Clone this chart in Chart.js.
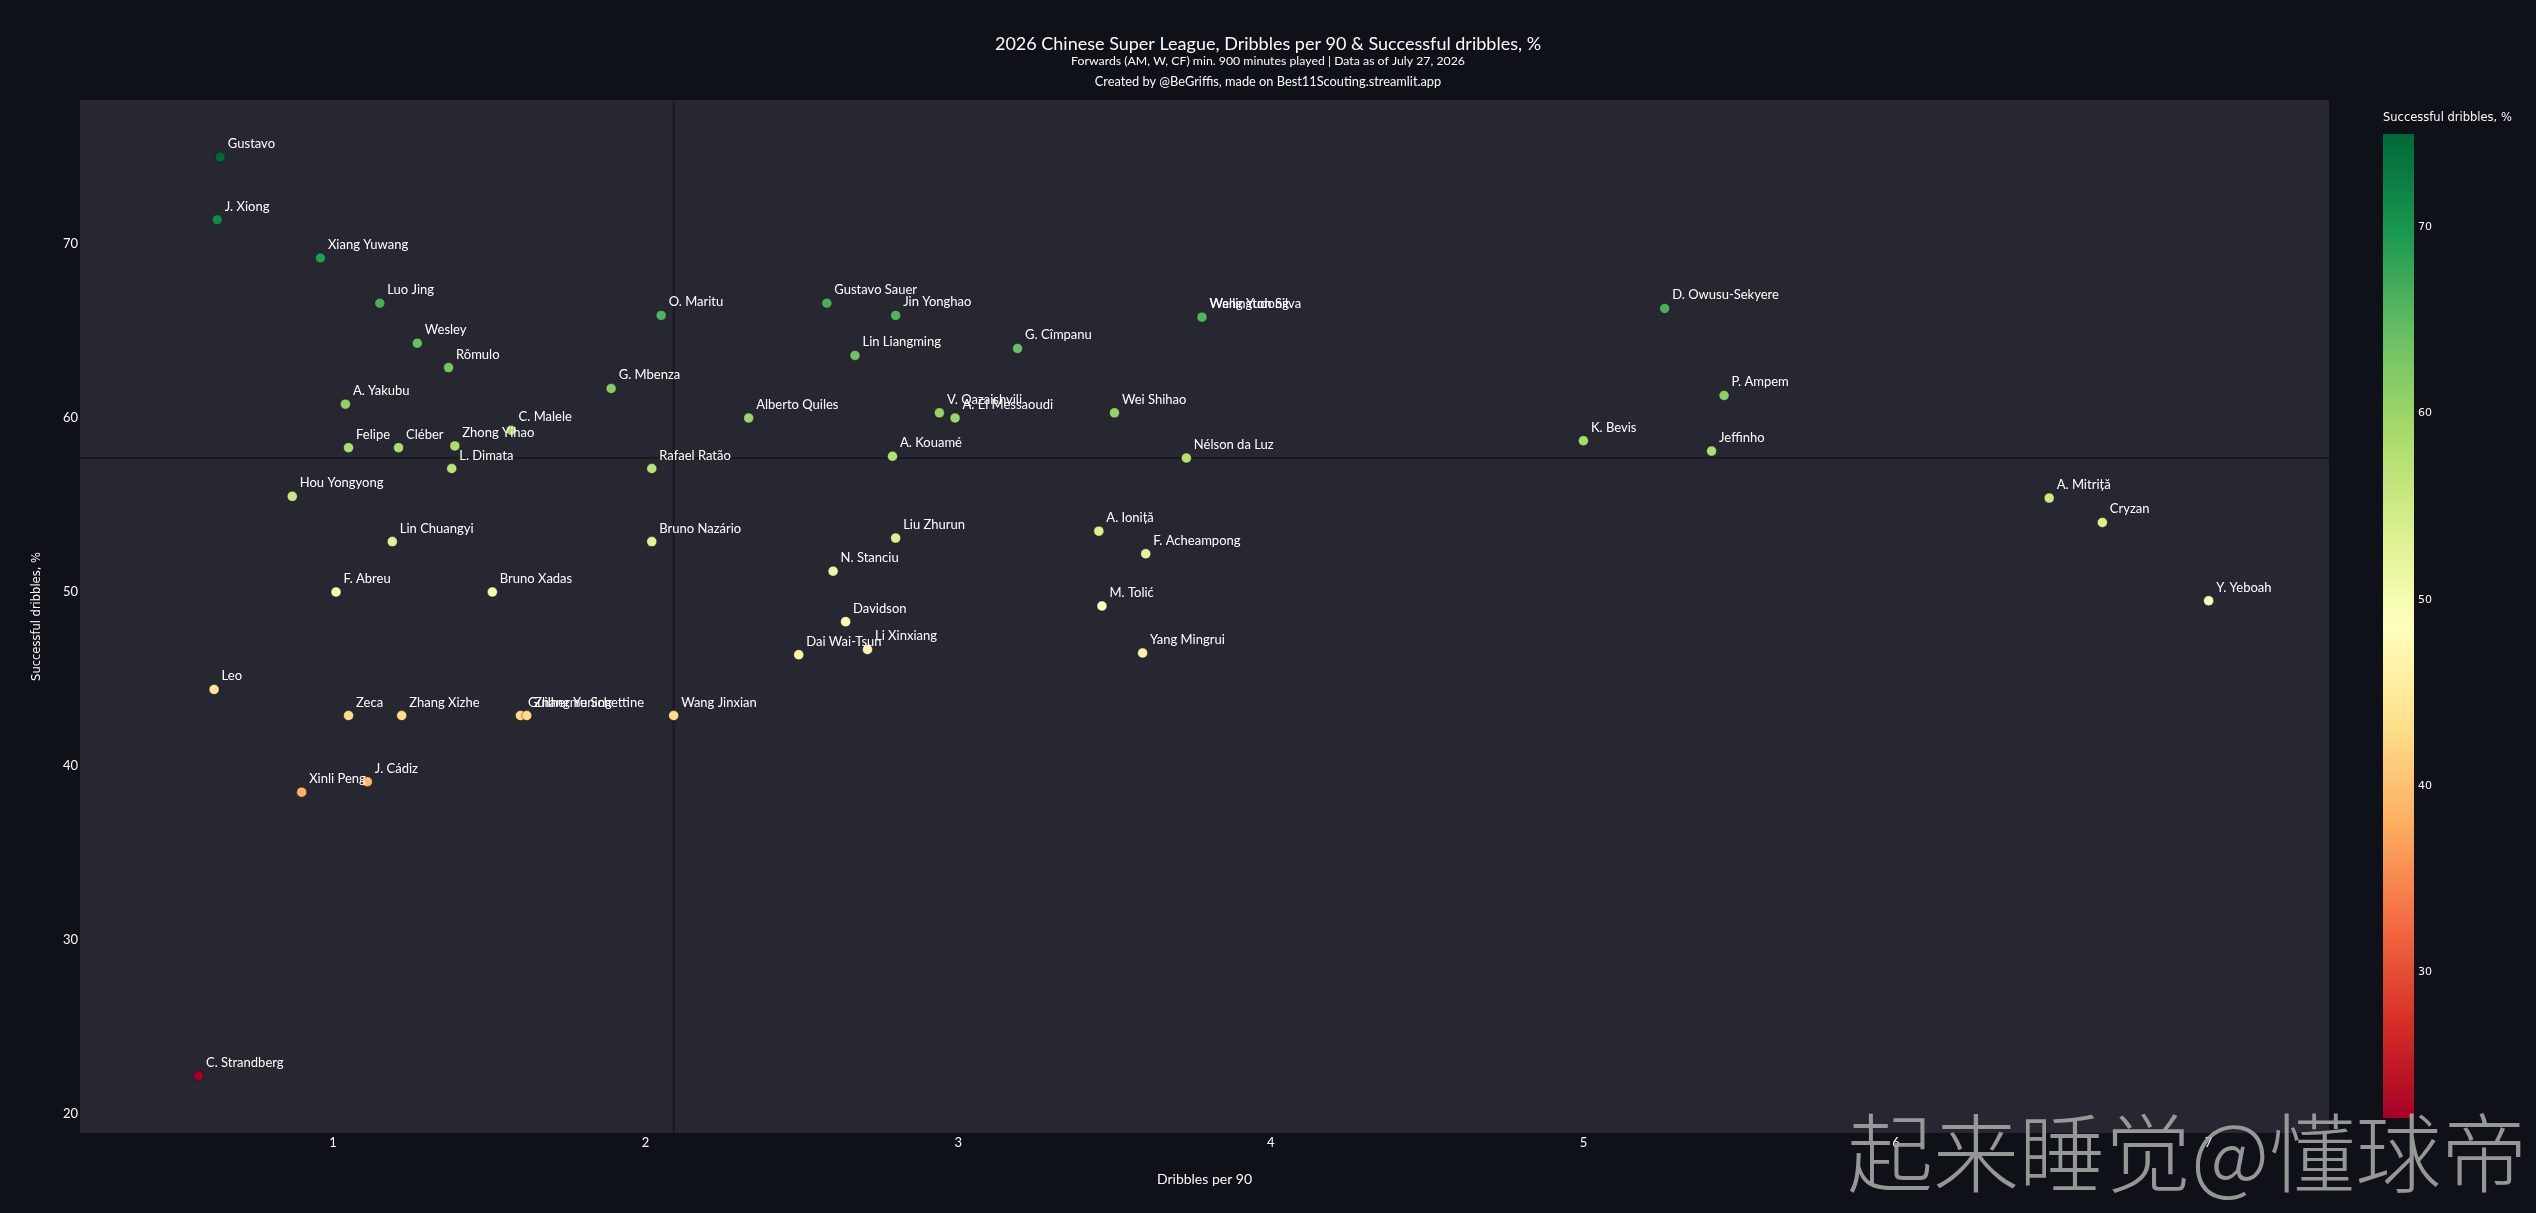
<!DOCTYPE html>
<html>
<head>
<meta charset="utf-8">
<script src="https://cdn.jsdelivr.net/npm/chart.js@4.4.1/dist/chart.umd.min.js"></script>
<style>
  html, body { margin: 0; padding: 0; background: #0e1117; }
  #wrap { width: 2536px; height: 1213px; position: relative; }
</style>
</head>
<body>
<div id="wrap"><canvas id="dribbles_chart"></canvas></div>
<script>
// players, dribbles per 90 and successful dribbles %
var players = [
  "Gustavo", "J. Xiong", "Xiang Yuwang", "Luo Jing", "Wesley", "Rômulo",
  "A. Yakubu", "G. Mbenza", "O. Maritu", "Gustavo Sauer", "Jin Yonghao",
  "Lin Liangming", "G. Cîmpanu", "Wellington Silva", "Wang Yudong",
  "D. Owusu-Sekyere", "Alberto Quiles", "V. Qazaishvili", "A. El Messaoudi",
  "Wei Shihao", "P. Ampem", "Felipe", "Cléber", "Zhong Yihao", "C. Malele",
  "L. Dimata", "Rafael Ratão", "A. Kouamé", "Nélson da Luz", "K. Bevis",
  "Jeffinho", "Hou Yongyong", "A. Mitriță", "Lin Chuangyi", "Bruno Nazário",
  "Liu Zhurun", "A. Ioniță", "F. Acheampong", "Cryzan", "N. Stanciu",
  "F. Abreu", "Bruno Xadas", "M. Tolić", "Y. Yeboah", "Davidson",
  "Dai Wai-Tsun", "Li Xinxiang", "Yang Mingrui", "Leo", "Zeca", "Zhang Xizhe",
  "Guilherme Schettine", "Zhang Yuning", "Wang Jinxian", "J. Cádiz",
  "Xinli Peng", "C. Strandberg"
];
var dribbles_per_90 = [
  0.64, 0.63, 0.96, 1.15, 1.27, 1.37,
  1.04, 1.89, 2.05, 2.58, 2.80,
  2.67, 3.19, 3.78, 3.78,
  5.26, 2.33, 2.94, 2.99,
  3.50, 5.45, 1.05, 1.21, 1.39, 1.57,
  1.38, 2.02, 2.79, 3.73, 5.00,
  5.41, 0.87, 6.49, 1.19, 2.02,
  2.80, 3.45, 3.60, 6.66, 2.60,
  1.01, 1.51, 3.46, 7.00, 2.64,
  2.49, 2.71, 3.59, 0.62, 1.05, 1.22,
  1.60, 1.62, 2.09, 1.11,
  0.90, 0.57
];
var successful_dribbles = [
  75.0, 71.4, 69.2, 66.6, 64.3, 62.9,
  60.8, 61.7, 65.9, 66.6, 65.9,
  63.6, 64.0, 65.8, 65.8,
  66.3, 60.0, 60.3, 60.0,
  60.3, 61.3, 58.3, 58.3, 58.4, 59.3,
  57.1, 57.1, 57.8, 57.7, 58.7,
  58.1, 55.5, 55.4, 52.9, 52.9,
  53.1, 53.5, 52.2, 54.0, 51.2,
  50.0, 50.0, 49.2, 49.5, 48.3,
  46.4, 46.7, 46.5, 44.4, 42.9, 42.9,
  42.9, 42.9, 42.9, 39.1,
  38.5, 22.2
];
var x_ticks = [1, 2, 3, 4, 5, 6, 7];
var y_ticks = [20, 30, 40, 50, 60, 70];
var colorbar_ticks = [30, 40, 50, 60, 70];

// plotly RdYlGn
var rdylgn = [
  [0, [165, 0, 38]], [0.1, [215, 48, 39]], [0.2, [244, 109, 67]],
  [0.3, [253, 174, 97]], [0.4, [254, 224, 139]], [0.5, [255, 255, 191]],
  [0.6, [217, 239, 139]], [0.7, [166, 217, 106]], [0.8, [102, 189, 99]],
  [0.9, [26, 152, 80]], [1, [0, 104, 55]]
];
var cmin = Math.min.apply(null, successful_dribbles);
var cmax = Math.max.apply(null, successful_dribbles);

function scaleColor(v) {
  var t = (v - cmin) / (cmax - cmin);
  for (var i = 1; i < rdylgn.length; i++) {
    if (t <= rdylgn[i][0]) {
      var a = rdylgn[i - 1], b = rdylgn[i];
      var f = (t - a[0]) / (b[0] - a[0]);
      var c = a[1].map(function (ch, k) { return Math.round(ch + (b[1][k] - ch) * f); });
      return "rgb(" + c.join(",") + ")";
    }
  }
  return "rgb(0,104,55)";
}

function median(arr) {
  var s = arr.slice().sort(function (a, b) { return a - b; });
  var m = Math.floor(s.length / 2);
  return s.length % 2 ? s[m] : (s[m - 1] + s[m]) / 2;
}

var points = [];
for (i = 0; i < players.length; i++) {
  points.push({ x: dribbles_per_90[i], y: successful_dribbles[i] });
}
var colors = successful_dribbles.map(scaleColor);
var med_x = median(dribbles_per_90);
var med_y = median(successful_dribbles);

var backgroundPlugin = {
  id: "background",
  beforeDraw: function (chart) {
    var ctx = chart.ctx, a = chart.chartArea;
    ctx.save();
    ctx.fillStyle = "#0e1117";
    ctx.fillRect(0, 0, chart.width, chart.height);
    ctx.fillStyle = "#262730";
    ctx.fillRect(a.left, a.top, a.right - a.left, a.bottom - a.top);
    ctx.restore();
  },
  beforeDatasetsDraw: function (chart) {
    var ctx = chart.ctx, a = chart.chartArea;
    var px = chart.scales.x.getPixelForValue(med_x);
    var py = chart.scales.y.getPixelForValue(med_y);
    ctx.save();
    ctx.strokeStyle = "#15171d";
    ctx.lineWidth = 1.5;
    ctx.beginPath();
    ctx.moveTo(px, a.top);
    ctx.lineTo(px, a.bottom);
    ctx.moveTo(a.left, py);
    ctx.lineTo(a.right, py);
    ctx.stroke();
    ctx.restore();
  }
};

var labelsPlugin = {
  id: "pointLabels",
  afterDatasetsDraw: function (chart) {
    var ctx = chart.ctx;
    var meta = chart.getDatasetMeta(0);
    ctx.save();
    ctx.font = "13px Lato";
    ctx.fillStyle = "#ffffff";
    ctx.textAlign = "left";
    ctx.textBaseline = "alphabetic";
    meta.data.forEach(function (pt, i) {
      ctx.fillText(players[i], pt.x + 7.5, pt.y - 9);
    });
    ctx.restore();
  }
};

var decorPlugin = {
  id: "decor",
  afterDraw: function (chart) {
    var ctx = chart.ctx;
    var cx = chart.width / 2;
    ctx.save();
    ctx.fillStyle = "#fafafa";
    ctx.textAlign = "center";
    ctx.textBaseline = "alphabetic";
    ctx.font = "18px Lato";
    ctx.fillText("2026 Chinese Super League, Dribbles per 90 & Successful dribbles, %", cx, 50);
    ctx.font = "12.3px Lato";
    ctx.fillText("Forwards (AM, W, CF) min. 900 minutes played | Data as of July 27, 2026", cx, 65);
    ctx.font = "12.8px Lato";
    ctx.fillText("Created by @BeGriffis, made on Best11Scouting.streamlit.app", cx, 86);

    // colour bar
    var bx = 2383, bw = 31, btop = 134, bbot = 1118;
    var grad = ctx.createLinearGradient(0, bbot, 0, btop);
    rdylgn.forEach(function (s) { grad.addColorStop(s[0], "rgb(" + s[1].join(",") + ")"); });
    ctx.fillStyle = grad;
    ctx.fillRect(bx, btop, bw, bbot - btop);
    ctx.fillStyle = "#fafafa";
    ctx.textAlign = "left";
    ctx.textBaseline = "middle";
    ctx.font = "11px 'DejaVu Sans'";
    colorbar_ticks.forEach(function (v) {
      var yy = bbot - (v - cmin) / (cmax - cmin) * (bbot - btop);
      ctx.fillText(String(v), bx + bw + 4, yy);
    });
    ctx.font = "11.5px 'DejaVu Sans'";
    ctx.fillText("Successful dribbles, %", bx, 118);

    // watermark
    ctx.font = "300 86px 'Noto Sans CJK SC'";
    ctx.fillStyle = "rgba(165,165,165,0.9)";
    ctx.textAlign = "left";
    ctx.textBaseline = "middle";
    ctx.fillText("起来睡觉@懂球帝", 1847, 1153);
    ctx.restore();
  }
};

var ctx = document.getElementById("dribbles_chart").getContext("2d");
var myChart = new Chart(ctx, {
  type: "scatter",
  data: {
    datasets: [
      {
        data: points,
        backgroundColor: colors,
        borderColor: "rgba(0,0,0,0.35)",
        borderWidth: 1,
        pointRadius: 5,
        pointHoverRadius: 5,
      },
    ],
  },
  options: {
    responsive: true,
    maintainAspectRatio: false,
    animation: false,
    devicePixelRatio: 1,
    layout: { padding: { left: 10, right: 207, top: 100, bottom: 0 } },
    plugins: {
      legend: { display: false },
      title: { display: false },
      tooltip: { enabled: false },
    },
    scales: {
      x: {
        type: "linear",
        min: 0.191,
        max: 7.385,
        afterBuildTicks: function (s) {
          s.ticks = x_ticks.map(function (v) { return { value: v }; });
        },
        afterFit: function (s) { s.height = 80; },
        grid: { display: false, drawTicks: false },
        border: { display: false },
        ticks: { color: "#fafafa", font: { family: "Lato", size: 13 }, padding: 2 },
        title: {
          display: true,
          text: "Dribbles per 90",
          color: "#fafafa",
          font: { family: "Lato", size: 14 },
          padding: { top: 0, bottom: 25 },
        },
      },
      y: {
        type: "linear",
        min: 18.91,
        max: 78.28,
        afterBuildTicks: function (s) {
          s.ticks = y_ticks.map(function (v) { return { value: v }; });
        },
        afterFit: function (s) { s.width = 70; },
        grid: { display: false, drawTicks: false },
        border: { display: false },
        ticks: { color: "#fafafa", font: { family: "Lato", size: 13 }, padding: 2 },
        title: {
          display: true,
          text: "Successful dribbles, %",
          color: "#fafafa",
          font: { family: "DejaVu Sans", size: 11.5 },
          padding: { top: 20, bottom: 0 },
        },
      },
    },
  },
  plugins: [backgroundPlugin, labelsPlugin, decorPlugin],
});
</script>
</body>
</html>
